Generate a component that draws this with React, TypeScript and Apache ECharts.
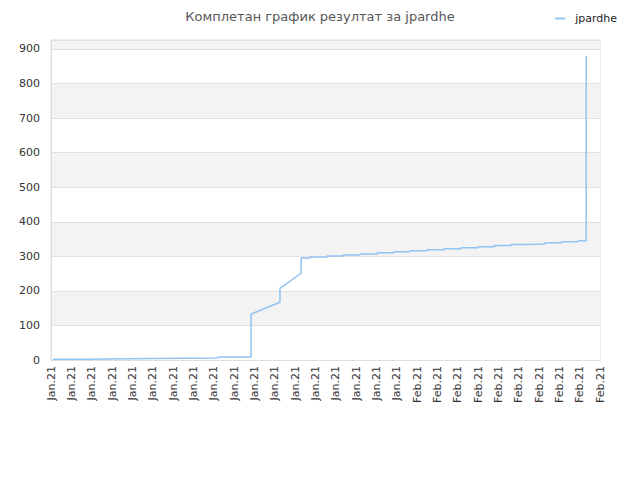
import React, { useEffect, useRef } from 'react';
import * as echarts from 'echarts';

// x positions in label-slot units, and the running score at each point
const dayPos = [
    0.1, 1.72, 1.72, 4.97, 4.97, 8.21, 8.21, 9.84, 9.84, 11.26, 11.26, 12.3, 12.3,
    12.74, 12.74, 13.58, 13.58, 14.36, 14.36, 15.2, 15.2, 16.04, 16.04, 16.87, 16.87,
    17.66, 17.66, 18.5, 18.5, 19.33, 19.33, 20.17, 20.17, 21.0, 21.0, 21.79, 21.79,
    22.63, 22.63, 23.46, 23.46, 24.3, 24.3, 25.13, 25.13, 25.92, 25.92, 26.32, 26.32,
];
const scores = [
    2, 2, 4, 4, 6, 6, 9, 9, 133, 167, 207, 251, 295,
    295, 298, 298, 301, 301, 304, 304, 307, 307, 310, 310, 313,
    313, 316, 316, 319, 319, 322, 322, 325, 325, 328, 328, 331,
    331, 334, 334, 336, 336, 339, 339, 342, 342, 345, 345, 880,
];
const tickLabels = [
    'Jan.21', 'Jan.21', 'Jan.21', 'Jan.21', 'Jan.21', 'Jan.21', 'Jan.21', 'Jan.21', 'Jan.21',
    'Jan.21', 'Jan.21', 'Jan.21', 'Jan.21', 'Jan.21', 'Jan.21', 'Jan.21', 'Jan.21', 'Jan.21',
    'Feb.21', 'Feb.21', 'Feb.21', 'Feb.21', 'Feb.21', 'Feb.21', 'Feb.21', 'Feb.21', 'Feb.21', 'Feb.21',
];

const FONT = 'DejaVu Sans';

const App: React.FC = () => {
    const chartRef = useRef<HTMLDivElement | null>(null);

    useEffect(() => {
        document.body.style.margin = '0';
        if (!chartRef.current) return;
        const chart = echarts.init(chartRef.current, null, { renderer: 'svg' });

        chart.setOption({
            animation: false,
            textStyle: { fontFamily: FONT },
            title: {
                text: 'Комплетан график резултат за jpardhe',
                left: 'center',
                top: 5,
                textStyle: { fontSize: 13, fontWeight: 'normal', color: '#555', fontFamily: FONT },
            },
            legend: {
                right: 18,
                top: 8,
                icon: 'rect',
                itemWidth: 10,
                itemHeight: 2,
                itemGap: 10,
                textStyle: { fontSize: 11, color: '#222', fontFamily: FONT, padding: [0, 0, 0, 5] },
                data: ['jpardhe'],
            },
            grid: {
                left: 51,
                right: 40,
                top: 40,
                bottom: 120,
                show: true,
                borderColor: '#dddddd',
                borderWidth: 1,
            },
            xAxis: {
                type: 'value',
                min: 0,
                max: 27,
                interval: 1,
                axisLine: { show: true, lineStyle: { color: '#dddddd' } },
                axisTick: { show: false },
                splitLine: { show: false },
                axisLabel: {
                    rotate: 90,
                    fontSize: 11,
                    color: '#333',
                    margin: 6,
                    showMinLabel: true,
                    showMaxLabel: true,
                    formatter: (v: number) => tickLabels[Math.round(v)] ?? '',
                },
            },
            yAxis: {
                type: 'value',
                min: 0,
                max: 926,
                interval: 100,
                axisLine: { show: true, lineStyle: { color: '#dddddd' } },
                axisTick: { show: false },
                axisLabel: {
                    fontSize: 11,
                    color: '#333',
                    margin: 11,
                    showMaxLabel: false,
                },
                splitLine: { show: true, lineStyle: { color: '#e0e0e0' } },
                splitArea: { show: true, areaStyle: { color: ['#ffffff', '#f3f3f3'] } },
            },
            series: [
                {
                    name: 'jpardhe',
                    type: 'line',
                    showSymbol: false,
                    symbol: 'none',
                    data: dayPos.map((x, i) => [x, scores[i]]),
                    lineStyle: { color: '#90c4f2', width: 1.5 },
                    itemStyle: { color: '#90c4f2' },
                },
            ],
        });

        return () => {
            chart.dispose();
        };
    }, []);

    return <div ref={chartRef} style={{ width: '640px', height: '480px' }} />;
};

export default App;
